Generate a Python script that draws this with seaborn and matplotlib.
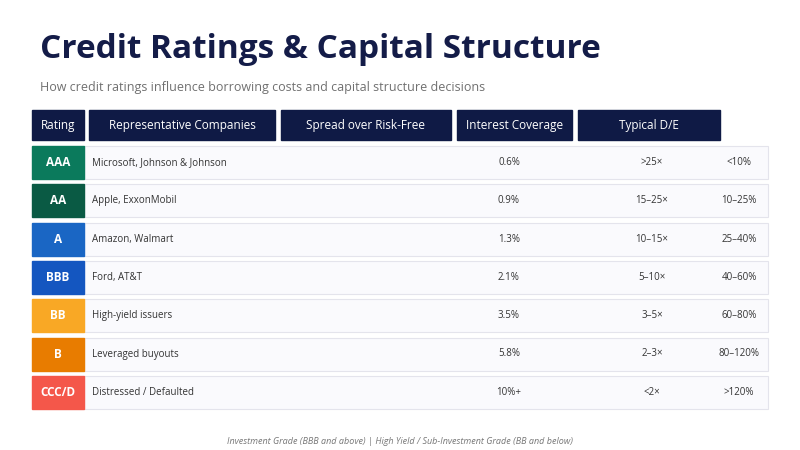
import matplotlib
matplotlib.use("Agg")
import matplotlib.pyplot as plt
import seaborn as sns
from matplotlib.patches import Rectangle

sns.set_style("white")
plt.rcParams['font.family'] = ['Open Sans', 'DejaVu Sans']

headers = ["Rating", "Representative Companies", "Spread over Risk-Free", "Interest Coverage", "Typical D/E"]
ratings = ["AAA", "AA", "A", "BBB", "BB", "B", "CCC/D"]
companies = ["Microsoft, Johnson & Johnson", "Apple, ExxonMobil", "Amazon, Walmart", "Ford, AT&T",
             "High-yield issuers", "Leveraged buyouts", "Distressed / Defaulted"]
spreads = ["0.6%", "0.9%", "1.3%", "2.1%", "3.5%", "5.8%", "10%+"]
coverage = [">25×", "15–25×", "10–15×", "5–10×", "3–5×", "2–3×", "<2×"]
debt_equity = ["<10%", "10–25%", "25–40%", "40–60%", "60–80%", "80–120%", ">120%"]
badge_colors = ["#0b7a5c", "#0a5a44", "#1a66c4", "#1456c0", "#f9a825", "#e87c00", "#f4574a"]

fig = plt.figure(figsize=(8, 4.5), dpi=100)
ax = fig.add_axes([0, 0, 1, 1])
ax.set_xlim(0, 800)
ax.set_ylim(450, 0)
ax.axis('off')

ax.text(40, 50, "Credit Ratings & Capital Structure", fontsize=24, fontweight='bold',
        color="#141c48", va='center')
ax.text(40, 87, "How credit ratings influence borrowing costs and capital structure decisions",
        fontsize=9, color="#707070", va='center')

# header cells
head_x = [(32, 84), (89, 275), (281, 451), (457, 572), (578, 720)]
for (x0, x1), h in zip(head_x, headers):
    ax.add_patch(Rectangle((x0, 110), x1 - x0, 30, color="#0f1a45"))
    ax.text((x0 + x1) / 2, 125, h, color="white", fontsize=8.5, ha='center', va='center')

# rows
for i, r in enumerate(ratings):
    y = 146 + i * 38.3
    ax.add_patch(Rectangle((84, y), 684, 33, facecolor="#fafafd", edgecolor="#e4e4ec", lw=0.8))
    ax.add_patch(Rectangle((32, y), 52, 33, color=badge_colors[i]))
    ax.text(58, y + 16.5, r, color="white", fontsize=8.5, fontweight='bold', ha='center', va='center')
    ax.text(92, y + 16.5, companies[i], color="#333333", fontsize=7, va='center')
    ax.text(509, y + 16.5, spreads[i], color="#333333", fontsize=7, ha='center', va='center')
    ax.text(652, y + 16.5, coverage[i], color="#333333", fontsize=7, ha='center', va='center')
    ax.text(739, y + 16.5, debt_equity[i], color="#333333", fontsize=7, ha='center', va='center')

ax.text(400, 442, "Investment Grade (BBB and above) | High Yield / Sub-Investment Grade (BB and below)",
        fontsize=6.5, style='italic', color="#777777", ha='center', va='center')

fig.savefig("out.png", dpi=100)
